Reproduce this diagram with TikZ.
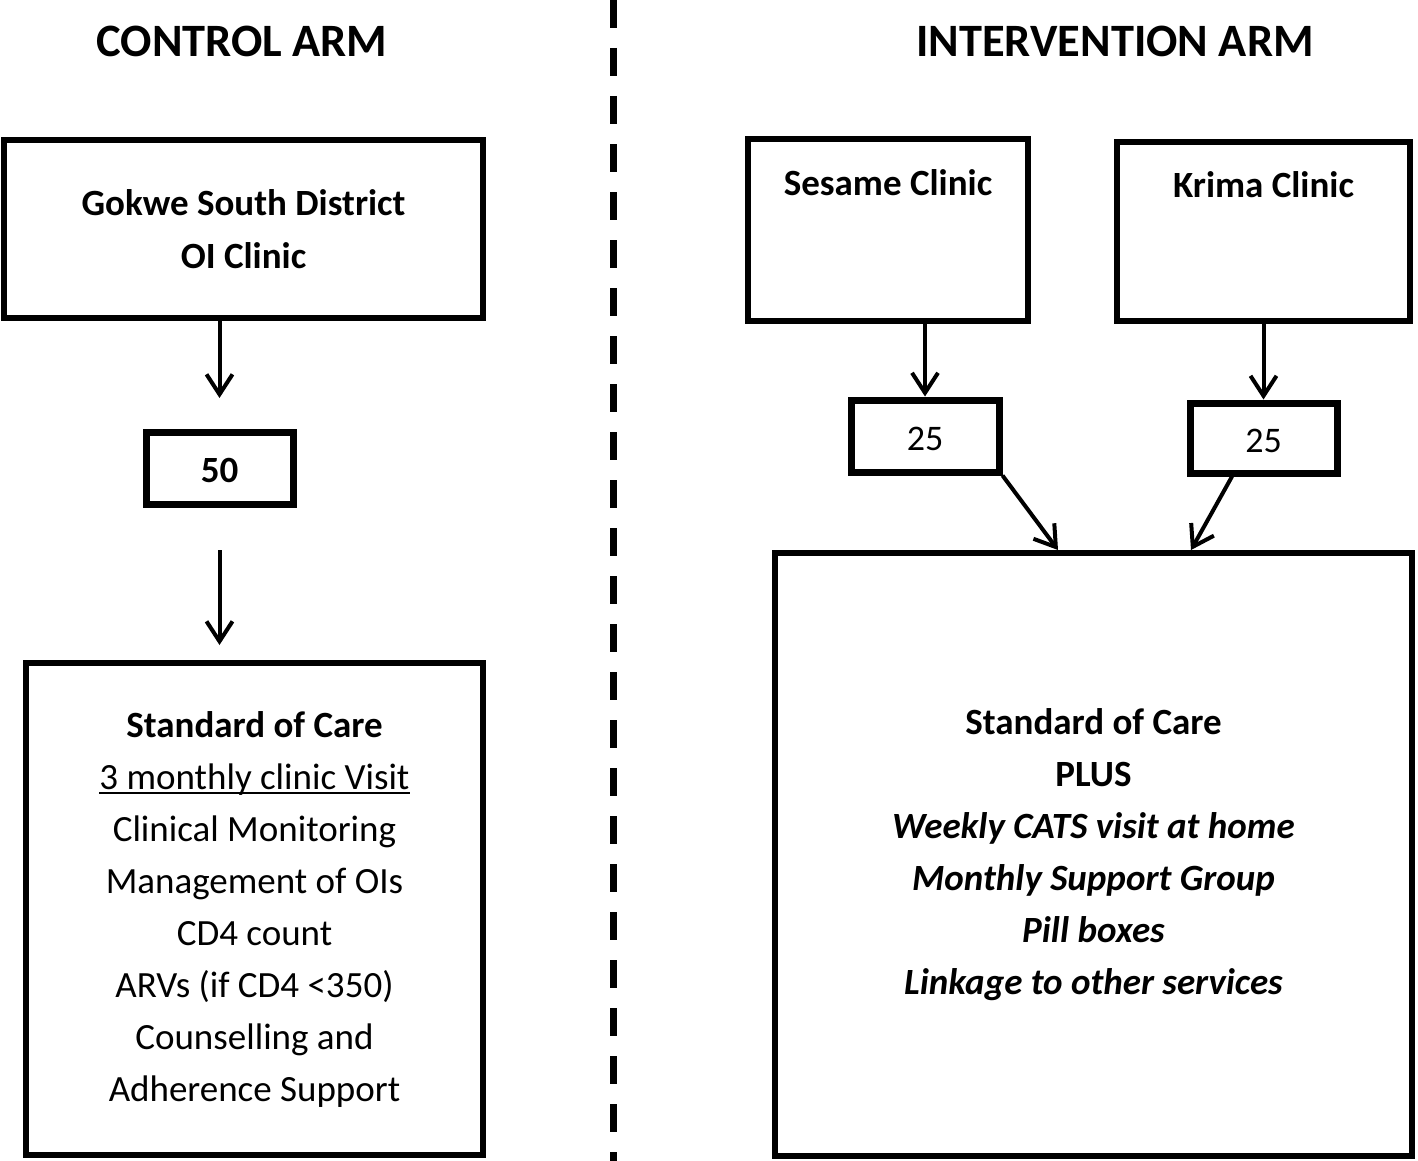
\documentclass[tikz,border=0pt]{standalone}
\usepackage{fontspec}
\setmainfont{Carlito}
\newcommand\ulinetext[1]{\setbox0\hbox{#1}\rlap{\rule[-2.5pt]{\wd0}{1pt}}\box0}
\usetikzlibrary{arrows.meta, positioning}

\begin{document}
\begin{tikzpicture}[x=0.5pt, y=-0.5pt,
  box/.style={draw, line width=3pt, inner sep=0pt, align=center},
  numbox/.style={draw, line width=3.5pt, inner sep=0pt, text height=14pt, text depth=0pt},
  armtitle/.style={anchor=base, font=\fontsize{23.2pt}{28pt}\selectfont\bfseries},
  caretext/.style={font=\fontsize{18.5pt}{26pt}\selectfont},
  arr/.style={-{Straight Barb[length=10pt, width=13pt]}, line width=2pt}]
  \useasboundingbox (0,0) rectangle (1418,1161);
  % divider
  \draw[line width=3.5pt, dash pattern=on 14pt off 10pt] (613,0) -- (613,1161);
  \node[armtitle] (ctrltitle) at (242,57) {CONTROL ARM};
  \node[armtitle] (inttitle) at (1115,57) {INTERVENTION ARM};
  % control arm
  \node[box, minimum width=239.5pt, minimum height=89pt,
        font=\fontsize{18.5pt}{26.5pt}\selectfont\bfseries] (gokwe) at (243.5,229)
        {Gokwe South District\\OI Clinic};
  \node[numbox, minimum width=73.5pt, minimum height=36pt,
        font=\fontsize{18.5pt}{22pt}\selectfont\bfseries] (fifty) at (219.5,468) {50};
  \node[box, caretext, minimum width=228.5pt, minimum height=246pt] (socL) at (254.5,909)
        {\textbf{Standard of Care}\\\ulinetext{3 monthly clinic Visit}\\Clinical Monitoring\\
         Management of OIs\\CD4 count\\ARVs (if CD4 <350)\\Counselling and\\Adherence Support};
  \draw[arr, shorten >=15.25pt] (gokwe.south -| fifty.north) -- (fifty.north);
  \draw[arr, shorten <=21.25pt, shorten >=7.5pt] (fifty.south) -- (fifty.south |- socL.north);
  % intervention arm
  \node[box, minimum width=140pt, minimum height=91pt] (sesame) at (888,230) {};
  \node[box, minimum width=146.5pt, minimum height=89.5pt] (krima) at (1263.5,231.5) {};
  \node[anchor=base, font=\fontsize{18.5pt}{22pt}\selectfont\bfseries] (sesametxt)
        at ([yshift=-29.5pt]sesame.north) {Sesame Clinic};
  \node[anchor=base, font=\fontsize{18.5pt}{22pt}\selectfont\bfseries] (krimatxt)
        at ([yshift=-29pt]krima.north) {Krima Clinic};
  \node[numbox, minimum width=74pt, minimum height=36pt,
        font=\fontsize{18pt}{22pt}\selectfont] (numa) at (925,436) {25};
  \node[numbox, minimum width=73.5pt, minimum height=35pt,
        font=\fontsize{18pt}{22pt}\selectfont] (numb) at (1263.5,438) {25};
  \node[box, caretext, minimum width=318.5pt, minimum height=301.5pt] (socR) at (1093.5,854.5)
        {\textbf{Standard of Care}\\\textbf{PLUS}\\\textbf{\textit{Weekly CATS visit at home}}\\
         \textbf{\textit{Monthly Support Group}}\\\textbf{\textit{Pill boxes}}\\
         \textbf{\textit{Linkage to other services}}};
  \draw[arr] (sesame.south -| numa.north) -- (numa.north);
  \draw[arr] (krima.south -| numb.north) -- (numb.north);
  \draw[arr] (numa.south east) -- ([xshift=-17.75pt]socR.north);
  \draw[arr] ([xshift=-15.75pt]numb.south) -- ([xshift=48.75pt]socR.north);
\end{tikzpicture}
\end{document}
